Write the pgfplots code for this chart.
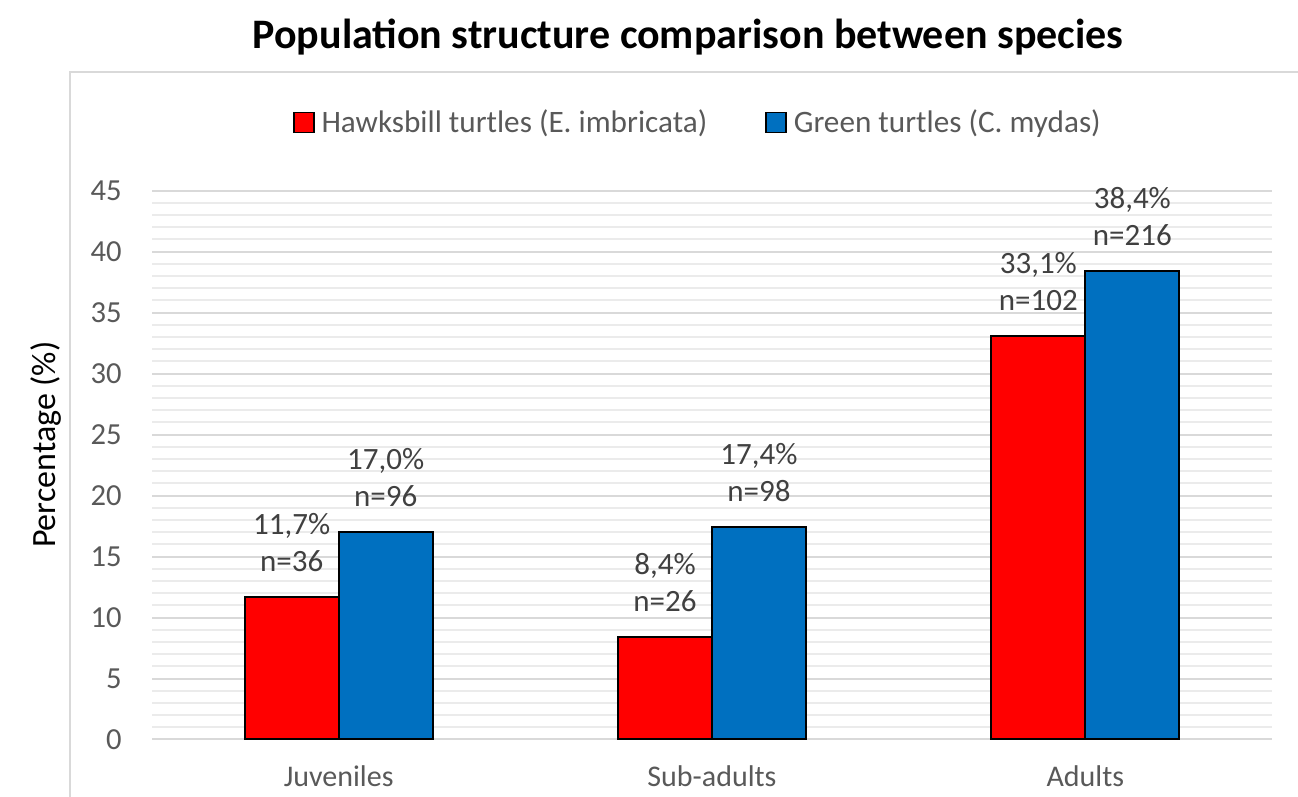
\documentclass[border=0pt]{standalone}
\usepackage{pgfplots}
\pgfplotsset{compat=1.18}
\usepackage{pgfplotstable}
\usepackage{fontspec}
\setmainfont{Carlito}
\definecolor{tickgrey}{HTML}{595959}
\definecolor{labgrey}{HTML}{404040}
\definecolor{framegrey}{HTML}{D9D9D9}
\definecolor{minorgrey}{HTML}{EBEBEB}
\definecolor{hawk}{HTML}{FF0000}
\definecolor{green}{HTML}{0070C0}

\pgfplotstableread{
x y n
0 11.7 36
1 8.4 26
2 33.1 102
}\hawks
\pgfplotstableread{
x y n
0 17.0 96
1 17.4 98
2 38.4 216
}\greens

\begin{document}
\begin{tikzpicture}
\useasboundingbox (0,0) rectangle (649bp,398.5bp);
\draw[framegrey, line width=1bp] (35bp,0) -- (35bp,362.5bp) -- (649bp,362.5bp);
\begin{axis}[
  at={(76bp,28.75bp)}, anchor=south west,
  scale only axis, width=560bp, height=274.5bp,
  /pgf/number format/assume math mode=true,
  font=\fontsize{15bp}{18.5bp}\selectfont,
  ybar=0pt, bar width=47bp,
  xmin=-0.5, xmax=2.5,
  ymin=0, ymax=45,
  xtick={0,1,2}, xticklabels={Juveniles, Sub-adults, Adults},
  ytick={0,5,...,45},
  minor y tick num=4,
  major tick length=0pt, minor tick length=0pt,
  axis line style={draw=none},
  ymajorgrids, yminorgrids,
  major grid style={framegrey, line width=1bp},
  minor grid style={minorgrey, line width=0.9bp},
  y tick label style={text=tickgrey, inner sep=0pt, anchor=east, xshift=-15bp, font=\fontsize{15.3bp}{18.5bp}\selectfont},
  x tick label style={text=tickgrey, inner sep=0pt, anchor=north, yshift=-13bp},
  ylabel={Percentage (\%)},
  ylabel style={at={(axis description cs:-0.0946,0.537)}, anchor=center, text=black, font=\fontsize{17bp}{20bp}\selectfont},
  title={\fontsize{21bp}{25bp}\selectfont\bfseries Population structure comparison between species},
  title style={at={(axis description cs:0.4786,1.2377)}, anchor=base, inner sep=0pt},
  legend columns=2,
  legend style={draw=none, fill=none, inner sep=0pt, outer sep=0pt,
    at={(axis description cs:0.1259,1.1239)}, anchor=west,
    font=\fontsize{15.6bp}{18.5bp}\selectfont,
    nodes={inner sep=0pt, text=tickgrey},
    /tikz/every odd column/.append style={column sep=3.5bp},
    /tikz/every even column/.append style={column sep=29bp}},
  legend image code/.code={\draw[#1, line width=0.75bp] (0bp,-5bp) rectangle (10bp,5bp);},
  point meta=y,
  nodes near coords={\pgfmathprintnumber[fixed, fixed zerofill, precision=1, use comma]{\pgfplotspointmeta}\%\\n=\pgfmathprintnumber{\nval}},
  every node near coord/.append style={align=center, anchor=south, inner sep=0pt, yshift=12bp, text=labgrey, font=\fontsize{15.5bp}{18.5bp}\selectfont},
  visualization depends on={\thisrow{n} \as \nval},
]
\addplot[fill=hawk, draw=black, line width=1bp] table[x=x, y=y] {\hawks};
\addlegendentry{Hawksbill turtles (E. imbricata)}
\addplot[fill=green, draw=black, line width=1bp] table[x=x, y=y] {\greens};
\addlegendentry{Green turtles (C. mydas)}
\end{axis}
\end{tikzpicture}
\end{document}
